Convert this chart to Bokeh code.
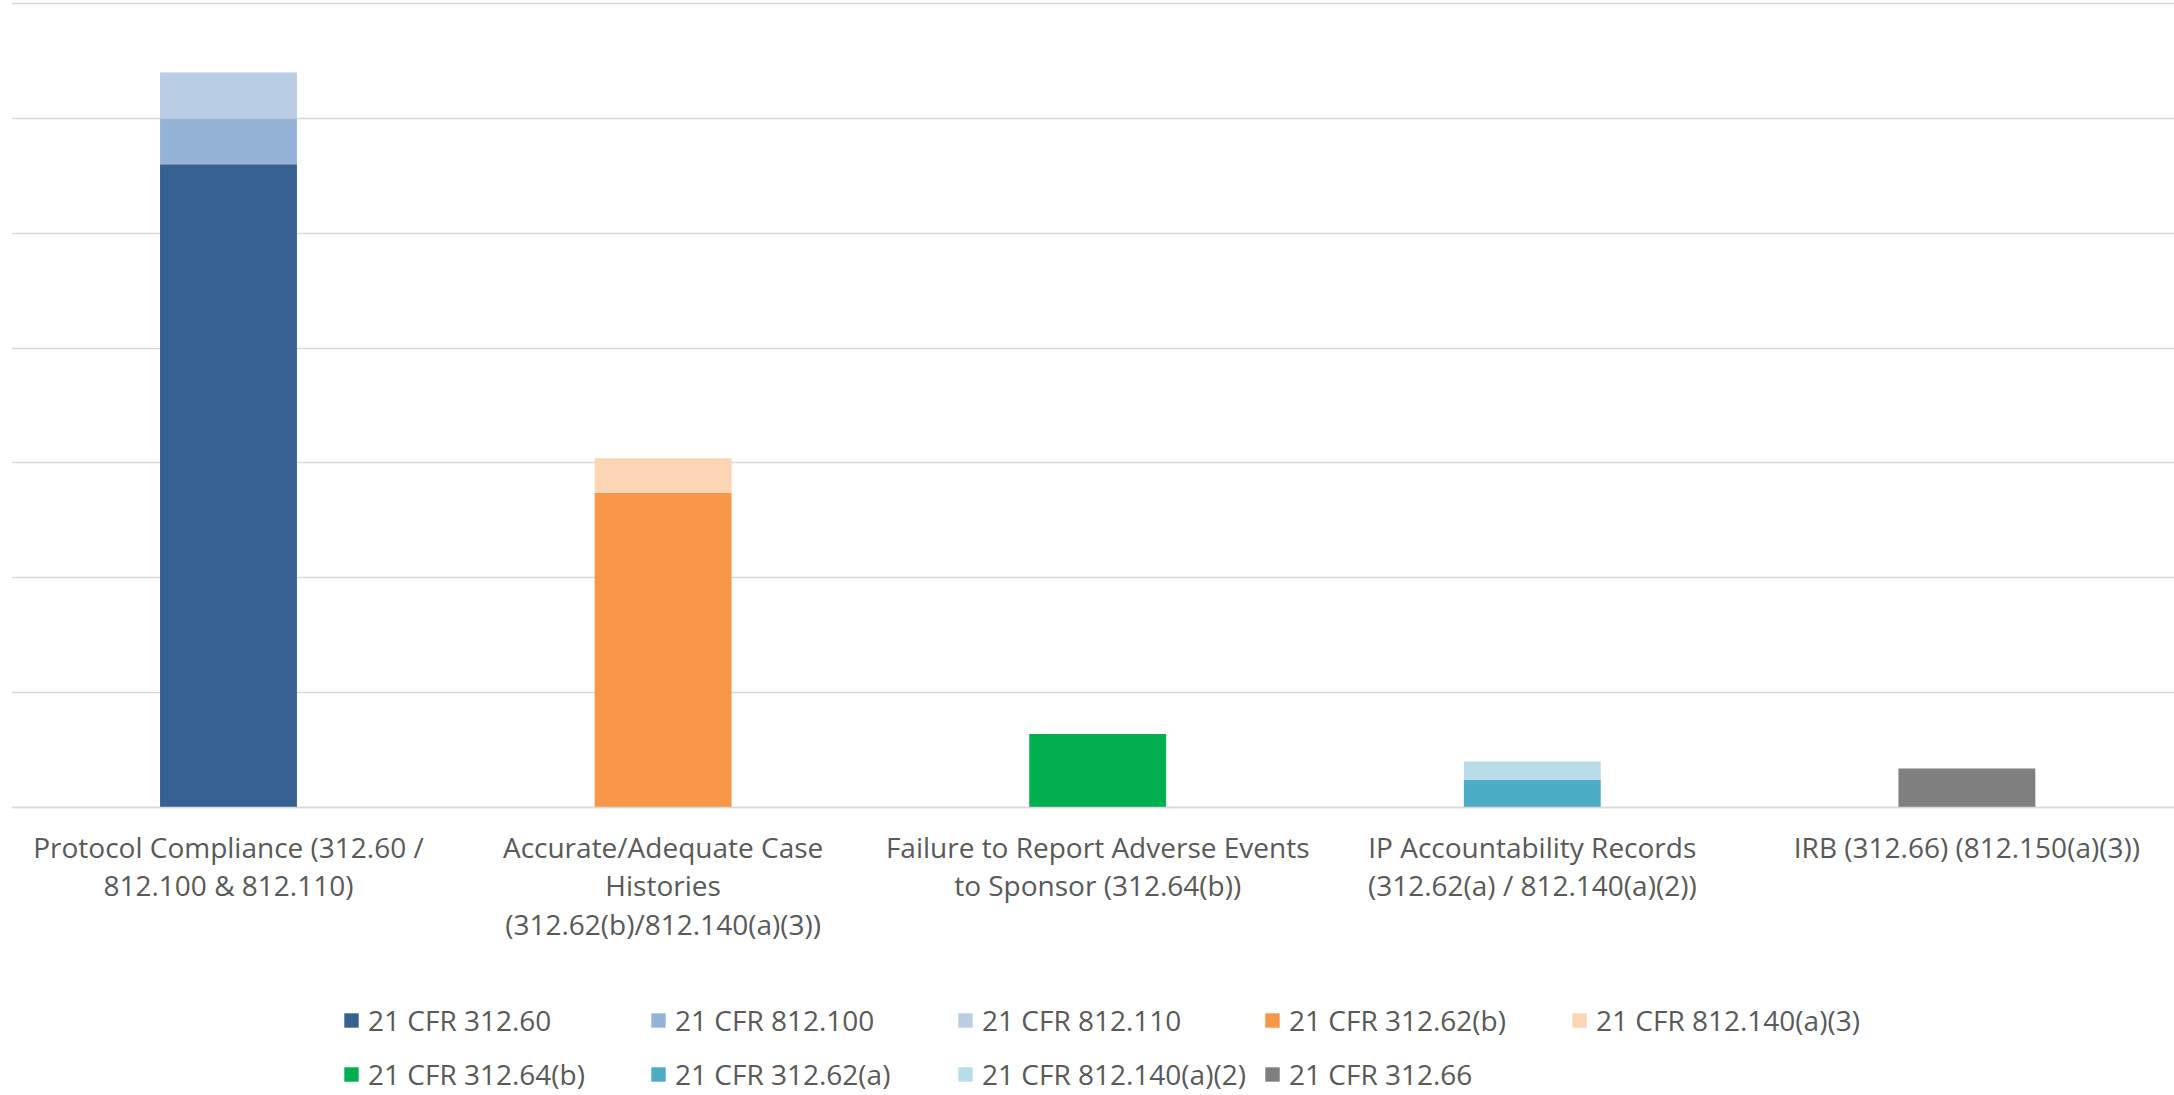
from bokeh.plotting import figure
from bokeh.models import Range1d, FixedTicker, Legend, ColumnDataSource
from bokeh.embed import file_html
from bokeh.resources import INLINE

categories = [
    "Protocol Compliance (312.60 /\n812.100 & 812.110)",
    "Accurate/Adequate Case\nHistories\n(312.62(b)/812.140(a)(3))",
    "Failure to Report Adverse Events\nto Sponsor (312.64(b))",
    "IP Accountability Records\n(312.62(a) / 812.140(a)(2))",
    "IRB (312.66) (812.150(a)(3))",
]
series_names = [
    "21 CFR 312.60", "21 CFR 812.100", "21 CFR 812.110",
    "21 CFR 312.62(b)", "21 CFR 812.140(a)(3)", "21 CFR 312.64(b)",
    "21 CFR 312.62(a)", "21 CFR 812.140(a)(2)", "21 CFR 312.66",
]
cfr_312_60 = [28, 0, 0, 0, 0]
cfr_812_100 = [2, 0, 0, 0, 0]
cfr_812_110 = [2, 0, 0, 0, 0]
cfr_312_62b = [0, 13.7, 0, 0, 0]
cfr_812_140a3 = [0, 1.5, 0, 0, 0]
cfr_312_64b = [0, 0, 3.2, 0, 0]
cfr_312_62a = [0, 0, 0, 1.2, 0]
cfr_812_140a2 = [0, 0, 0, 0.8, 0]
cfr_312_66 = [0, 0, 0, 0, 1.7]
gridlines = [0, 5, 10, 15, 20, 25, 30, 35]

colors = ["#376092", "#95B3D7", "#B9CDE5", "#F79646", "#FCD5B5",
          "#00B050", "#4BACC6", "#B7DEE8", "#7F7F7F"]

keys = ["s%d" % i for i in range(len(series_names))]
values = [cfr_312_60, cfr_812_100, cfr_812_110, cfr_312_62b, cfr_812_140a3,
          cfr_312_64b, cfr_312_62a, cfr_812_140a2, cfr_312_66]
data = {"x": list(range(len(categories)))}
for k, v in zip(keys, values):
    data[k] = v
source = ColumnDataSource(data)

FONT = "Open Sans"
TXT = "#595959"

p = figure(width=2174, height=1095, output_backend="svg", toolbar_location=None,
           x_range=Range1d(-0.4993, 4.4777), y_range=Range1d(-12.538, 35.133),
           min_border_left=11, min_border_right=0, min_border_top=0, min_border_bottom=0)
p.outline_line_color = None
p.background_fill_color = "white"

renderers = p.vbar_stack(keys, x="x", width=0.315, color=colors, line_color=None,
                         source=source)

p.yaxis.visible = False
p.ygrid.ticker = FixedTicker(ticks=gridlines)
p.ygrid.grid_line_color = "#D9D9D9"
p.ygrid.grid_line_width = 1.4
p.xgrid.visible = False

xa = p.xaxis[0]
xa.fixed_location = 0
xa.ticker = FixedTicker(ticks=list(range(len(categories))))
xa.major_label_overrides = {i: c for i, c in enumerate(categories)}
xa.axis_line_color = "#D9D9D9"
xa.axis_line_width = 1.4
xa.major_tick_line_color = None
xa.minor_tick_line_color = None
xa.major_label_text_font = FONT
xa.major_label_text_font_size = "28px"
xa.major_label_text_color = TXT
xa.major_label_text_line_height = 1.02
xa.major_label_standoff = 14

legend = Legend(items=[(n, [r]) for n, r in zip(series_names, renderers)],
                location=(331, -6), orientation="horizontal", ncols=5,
                glyph_width=18, glyph_height=18, label_standoff=8,
                label_width=281, label_height=54, spacing=0, padding=0, margin=0,
                label_text_font=FONT, label_text_font_size="28px",
                label_text_color=TXT, border_line_color=None,
                background_fill_alpha=0)
p.add_layout(legend)

open("out.html", "w").write(file_html(p, INLINE))
